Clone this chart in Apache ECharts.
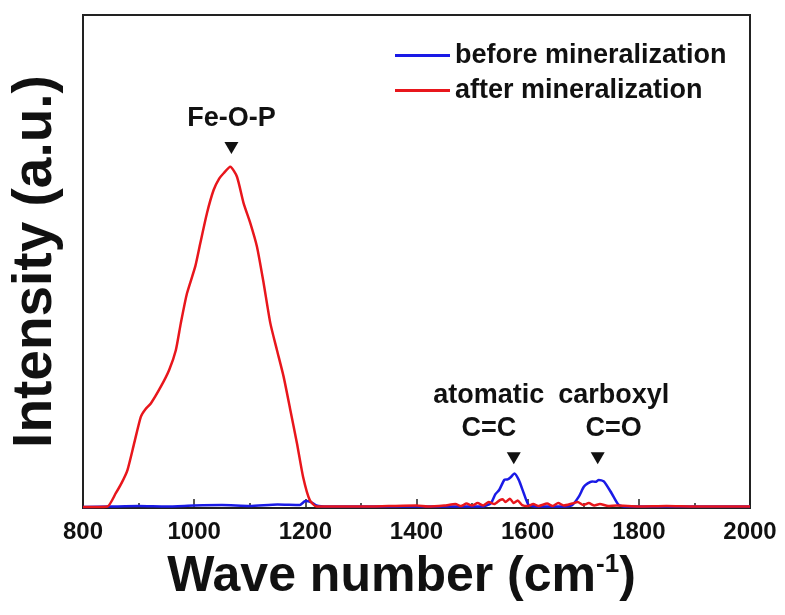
<!DOCTYPE html>
<html>
<head>
<meta charset="utf-8">
<script src="https://cdn.jsdelivr.net/npm/echarts@6/dist/echarts.min.js"></script>
<style>
  html, body { margin: 0; padding: 0; background: #fff; }
  #chart { width: 785px; height: 615px; }
</style>
</head>
<body>
<div id="chart"></div>
<script>
const FONT = '"Liberation Sans", Arial, sans-serif';

// spectra (wave number, intensity a.u.)
const afterX = [800, 820, 844, 859, 870, 880, 892, 904, 912, 922, 940, 955, 967, 976, 987, 1002, 1011, 1023, 1035, 1045, 1053, 1065,
    1077, 1089, 1101, 1113, 1125, 1137, 1149, 1161, 1173, 1185, 1196, 1208, 1220, 1250, 1300, 1350, 1400, 1420, 1450, 1470, 1480,
    1490, 1500, 1510, 1520, 1530, 1540, 1550, 1555, 1560, 1568, 1575, 1582, 1590, 1600, 1610, 1620, 1635, 1645, 1655, 1665, 1680,
    1690, 1700, 1710, 1720, 1730, 1745, 1760, 1800, 1850, 1900, 1950, 2000];
const afterY = [0.2, 0.2, 0.3, 3.0, 5.2, 7.7, 13.1, 18.5, 20.0, 21.2, 24.6, 28.0, 32.0, 37.5, 43.5, 49.0, 53.7, 59.8, 64.5, 66.8, 67.9, 69.2,
    67.2, 61.8, 57.8, 53.0, 45.6, 37.5, 32.0, 26.6, 19.9, 13.1, 6.3, 1.6, 0.3, 0.3, 0.3, 0.4, 0.5, 0.3, 0.5, 0.8, 0.4,
    0.9, 0.5, 1.0, 0.5, 1.2, 0.8, 1.6, 1.8, 1.2, 1.9, 1.0, 1.5, 0.6, 0.4, 0.8, 0.4, 0.9, 0.4, 1.0, 0.5, 0.9,
    1.2, 0.6, 1.0, 0.5, 0.8, 0.4, 0.5, 0.3, 0.4, 0.3, 0.3, 0.3];

const beforeX = [800, 850, 900, 950, 1000, 1050, 1100, 1150, 1190, 1200, 1210, 1220, 1240, 1400, 1520, 1534, 1542, 1549, 1558, 1564,
    1570, 1576, 1584, 1593, 1602, 1620, 1660, 1680, 1692, 1701, 1708, 1716, 1722, 1728, 1737, 1751, 1764, 1780, 2000];
const beforeY = [0.2, 0.3, 0.4, 0.3, 0.5, 0.6, 0.4, 0.7, 0.6, 1.4, 1.2, 0.5, 0.3, 0.3, 0.3, 1.0, 2.8, 3.7, 5.7, 5.8,
    6.3, 7.0, 5.7, 3.0, 0.6, 0.3, 0.3, 0.6, 2.3, 4.3, 5.0, 5.4, 5.3, 5.7, 5.4, 3.0, 0.6, 0.3, 0.3];

// peak markers
const markX = [1067, 1575, 1726];
const markY = [73, 10.1, 10.1];
const markText = ['Fe-O-P', 'atomatic\nC=C', 'carboxyl\nC=O'];
const markShift = [0, -25, 16];

const seriesNames = ['before mineralization', 'after mineralization'];

function pairs(xs, ys) {
    return xs.map((x, i) => [x, ys[i]]);
}

const chart = echarts.init(document.getElementById('chart'));

chart.setOption({
    animation: false,
    backgroundColor: '#fff',
    textStyle: { fontFamily: FONT },
    grid: {
        left: 82, right: 35, top: 15, bottom: 107,
        show: true, borderColor: '#222', borderWidth: 2
    },
    legend: {
        data: seriesNames,
        orient: 'vertical',
        left: 390,
        top: 37,
        itemWidth: 55,
        itemHeight: 3,
        itemGap: 8,
        icon: 'rect',
        textStyle: { fontFamily: FONT, fontSize: 27, fontWeight: 'bold', color: '#111', lineHeight: 27 }
    },
    xAxis: {
        type: 'value',
        min: 800,
        max: 2000,
        interval: 200,
        name: 'Wave number (cm{sup|-1})',
        nameLocation: 'middle',
        nameGap: 44,
        nameTextStyle: {
            fontFamily: FONT, fontSize: 50, fontWeight: 'bold', color: '#111',
            padding: [0, 30, 0, 0],
            rich: {
                sup: { fontFamily: FONT, fontSize: 26, fontWeight: 'bold', color: '#111', verticalAlign: 'top', padding: [0, 0, 24, 0] }
            }
        },
        axisLine: { lineStyle: { color: '#222', width: 2 } },
        axisTick: { inside: true, length: 9, lineStyle: { color: '#222', width: 1.5 } },
        minorTick: { show: true, splitNumber: 2, length: 5, lineStyle: { color: '#222', width: 1.5 } },
        axisLabel: {
            margin: 12, fontFamily: FONT, fontSize: 24, fontWeight: 'bold', color: '#111',
            formatter: v => String(v)
        },
        splitLine: { show: false }
    },
    yAxis: {
        type: 'value',
        min: 0,
        max: 100,
        name: 'Intensity (a.u.)',
        nameLocation: 'middle',
        nameRotate: 90,
        nameGap: 20,
        nameTextStyle: { fontFamily: FONT, fontSize: 55, fontWeight: 'bold', color: '#111' },
        axisLine: { show: true, lineStyle: { color: '#222', width: 2 } },
        axisTick: { show: false },
        axisLabel: { show: false },
        splitLine: { show: false }
    },
    series: [
        {
            name: seriesNames[0],
            type: 'line',
            data: pairs(beforeX, beforeY),
            showSymbol: false,
            smooth: 0.2,
            color: '#1a1ae6',
            lineStyle: { width: 2.5 }
        },
        {
            name: seriesNames[1],
            type: 'line',
            data: pairs(afterX, afterY),
            showSymbol: false,
            smooth: 0.2,
            color: '#e8161c',
            lineStyle: { width: 2.5 }
        },
        {
            name: 'marks',
            type: 'scatter',
            symbol: 'triangle',
            symbolRotate: 180,
            symbolSize: [14, 12],
            itemStyle: { color: '#111', opacity: 1 },
            data: markX.map((x, i) => ({
                value: [x, markY[i]],
                label: {
                    show: true,
                    position: 'top',
                    distance: 7,
                    offset: [markShift[i], 0],
                    formatter: markText[i],
                    fontFamily: FONT,
                    fontSize: 27,
                    fontWeight: 'bold',
                    color: '#111',
                    lineHeight: 33
                }
            }))
        }
    ]
});
</script>
</body>
</html>
